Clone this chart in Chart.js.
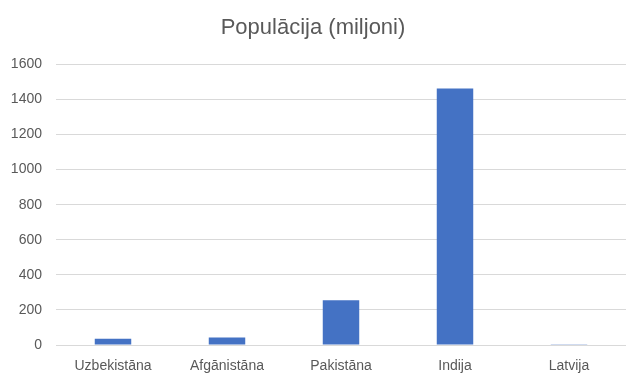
<!DOCTYPE html>
<html>
<head>
<meta charset="utf-8">
<script src="https://cdn.jsdelivr.net/npm/chart.js@4/dist/chart.umd.min.js"></script>
<style>
  html, body { margin: 0; padding: 0; background: #fff; }
  #wrap { width: 644px; height: 382px; }
</style>
</head>
<body>
<div id="wrap"><canvas id="popChart" width="644" height="382"></canvas></div>
<script>
// dati
const countries = ["Uzbekistāna", "Afgānistāna", "Pakistāna", "Indija", "Latvija"];
const population = [36, 43, 255, 1463, 1.9];
const yTicks = [0, 200, 400, 600, 800, 1000, 1200, 1400, 1600];

const FONT = "'Liberation Sans', 'Open Sans', sans-serif";
const TEXT_COLOR = "#595959";

const ctx = document.getElementById("popChart").getContext("2d");
new Chart(ctx, {
  type: "bar",
  data: {
    labels: countries,
    datasets: [{
      label: "Populācija (miljoni)",
      data: population,
      backgroundColor: "#4472c4",
      barPercentage: 0.32,
      categoryPercentage: 1
    }]
  },
  options: {
    responsive: false,
    animation: false,
    layout: { padding: { left: 0, right: 18, top: 15, bottom: 7 } },
    plugins: {
      legend: { display: false },
      tooltip: { enabled: false },
      title: {
        display: true,
        text: "Populācija (miljoni)",
        color: TEXT_COLOR,
        font: { family: FONT, size: 22, weight: "normal" },
        padding: { top: 0, bottom: 23 }
      }
    },
    scales: {
      x: {
        afterFit: (scale) => { scale.height = 30; },
        grid: { display: false, drawTicks: false },
        border: { display: false },
        ticks: {
          color: TEXT_COLOR,
          font: { family: FONT, size: 14 },
          padding: 13,
          maxRotation: 0
        }
      },
      y: {
        min: 0,
        max: 1600,
        afterBuildTicks: (scale) => {
          scale.ticks = yTicks.map((v) => ({ value: v }));
        },
        afterFit: (scale) => { scale.width = 56; },
        grid: { color: "#d9d9d9", drawTicks: false, lineWidth: 1 },
        border: { display: false },
        ticks: {
          color: TEXT_COLOR,
          font: { family: FONT, size: 14 },
          padding: 14,
          callback: (v) => String(v)
        }
      }
    }
  }
});
</script>
</body>
</html>
